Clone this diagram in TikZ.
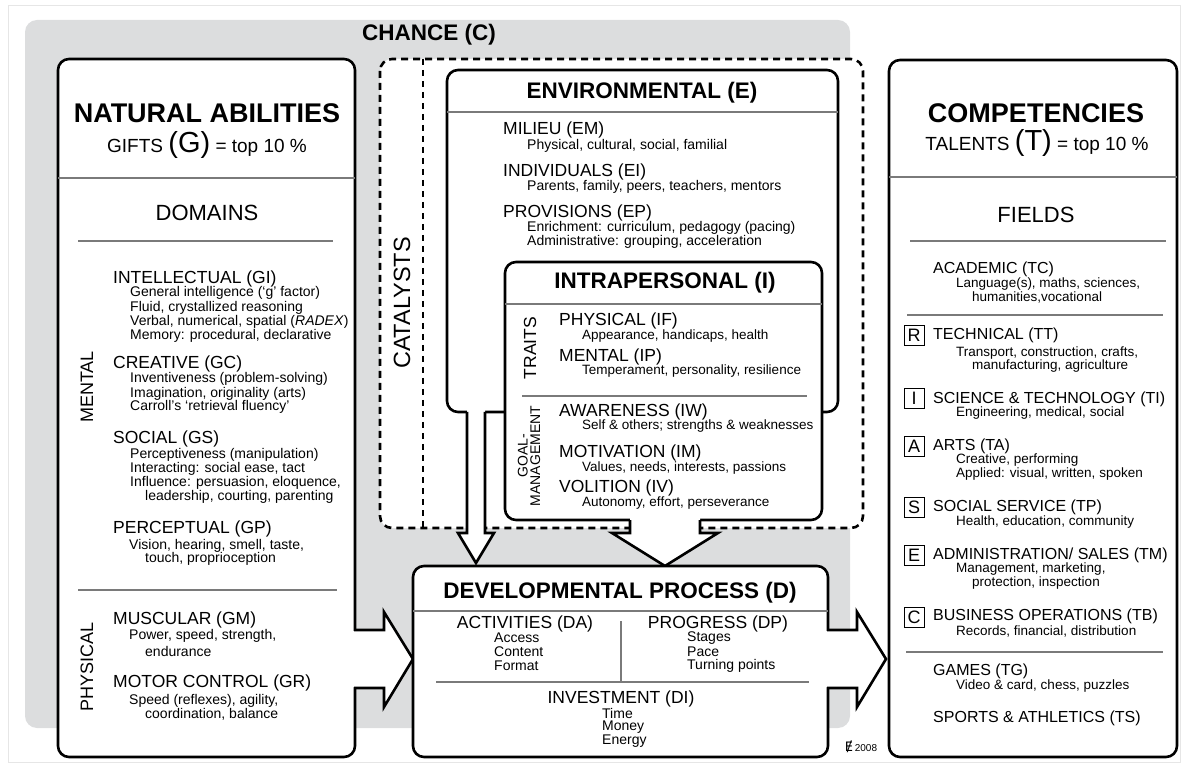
\documentclass[tikz,border=0pt]{standalone}
\usepackage{fontspec}
\setmainfont{Liberation Sans}
\newfontfamily\logofont{DejaVu Sans}
\usepackage{tikz}
\usetikzlibrary{positioning}
\definecolor{chancegray}{HTML}{DCDDDE}
\definecolor{rulegray}{HTML}{7A7A7A}
\definecolor{framegray}{HTML}{E6E6E6}

\begin{document}
\begin{tikzpicture}[x=1pt,y=-1pt,
  box/.style={line width=2.6pt,rounded corners=11pt},
  fatarrow/.style={line width=2.6pt,line join=miter},
  catline/.style={line width=2.6pt,dash pattern=on 7pt off 5pt},
  rule/.style={rulegray,line width=1.1pt},
  bigtitle/.style={font=\fontsize{27}{29}\selectfont\bfseries,inner sep=0pt},
  title/.style={font=\fontsize{22.5}{24}\selectfont\bfseries,inner sep=0pt},
  subtitle/.style={font=\fontsize{22}{24}\selectfont,inner sep=0pt},
  head/.style={font=\fontsize{17.5}{19}\selectfont,anchor=west,inner sep=0pt},
  item/.style={font=\fontsize{14}{15}\selectfont,anchor=west,inner sep=0pt},
  smallhead/.style={font=\fontsize{16}{18}\selectfont,anchor=west,inner sep=0pt},
  smallitem/.style={font=\fontsize{13.5}{15}\selectfont,anchor=west,inner sep=0pt},
  side/.style={font=\fontsize{18}{19}\selectfont,rotate=90,inner sep=0pt},
  riasec/.style={draw,line width=0.8pt,minimum size=20pt,inner sep=0pt,font=\fontsize{18}{18}\selectfont},
  centred/.style={anchor=center}]
  \useasboundingbox (0,0) rectangle (1187,767);
  \draw[framegray,line width=0.8pt] (8,5) rectangle (1180,762);

  % chance
  \fill[chancegray,rounded corners=12pt] (25,20) rectangle (850,728);
  \node[title] (chance) at (429,35) {CHANCE (C)};

  % natural abilities
  \draw[box,fill=white] (58,59) rectangle (355,757);
  \fill[white] (350,631) -- (384,631) -- (384,612) -- (413,659) -- (384,707) -- (384,687) -- (350,687) -- cycle;
  \draw[fatarrow] (354,630) -- (384,630) -- (384,612) -- (413,659) -- (384,707) -- (384,688) -- (354,688);
  \node[bigtitle] (na) at (207,113) {NATURAL ABILITIES};
  \node[inner sep=0pt,font=\fontsize{19}{20}\selectfont] (gifts) at (207,145)
    {GIFTS {\fontsize{29}{29}\selectfont(G)} = top 10 \%};
  \draw[rule] (58,178) -- (355,178);
  \node[subtitle] (domains) at (207,213) {DOMAINS};
  \draw[rule] (78,241) -- (333,241);
  \node[side] (mental) at (87,387) {MENTAL};
  \node[head] (gi) at (113,279) {INTELLECTUAL (GI)};
  \node[item] (gi1) at (130,293) {General intelligence (‘g’ factor)};
  \node[item] (gi2) at (130,308) {Fluid, crystallized reasoning};
  \node[item] (gi3) at (130,322) {Verbal, numerical, spatial (\textit{RADEX})};
  \node[item] (gi4) at (130,336) {Memory: procedural, declarative};
  \node[head] (gc) at (113,364) {CREATIVE (GC)};
  \node[item] (gc1) at (130,379) {Inventiveness (problem-solving)};
  \node[item] (gc2) at (130,394) {Imagination, originality (arts)};
  \node[item] (gc3) at (130,407) {Carroll’s ‘retrieval fluency’};
  \node[head] (gs) at (113,439) {SOCIAL (GS)};
  \node[item] (gs1) at (130,455) {Perceptiveness (manipulation)};
  \node[item] (gs2) at (130,469) {Interacting: social ease, tact};
  \node[item] (gs3) at (130,483) {Influence: persuasion, eloquence,};
  \node[item] (gs4) at (145,497) {leadership, courting, parenting};
  \node[head] (gp) at (113,529) {PERCEPTUAL (GP)};
  \node[item] (gp1) at (129,546) {Vision, hearing, smell, taste,};
  \node[item] (gp2) at (145,559) {touch, proprioception};
  \draw[rule] (78,590) -- (337,590);
  \node[side] (physical) at (87,667) {PHYSICAL};
  \node[head] (gm) at (113,620) {MUSCULAR (GM)};
  \node[item] (gm1) at (129,636) {Power, speed, strength,};
  \node[item] (gm2) at (145,651) {endurance};
  \node[head] (gr) at (113,683) {MOTOR CONTROL (GR)};
  \node[item] (gr1) at (129,701) {Speed (reflexes), agility,};
  \node[item] (gr2) at (145,714) {coordination, balance};

  % catalysts
  \draw[catline,rounded corners=12pt,fill=white] (380,59) rectangle (863,528);
  \draw[line width=1.8pt,dash pattern=on 6pt off 5pt] (423,59) -- (423,528);
  \node[side,font=\fontsize{23.5}{24}\selectfont] (catalysts) at (402,303) {CATALYSTS};

  % environmental
  \draw[box,fill=white] (447,70) rectangle (838,412);
  \node[title] (env) at (642,93) {ENVIRONMENTAL (E)};
  \draw[rule] (447,112) -- (838,112);
  \node[head] (em) at (503,130) {MILIEU (EM)};
  \node[item] (em1) at (527,146) {Physical, cultural, social, familial};
  \node[head] (ei) at (503,172) {INDIVIDUALS (EI)};
  \node[item] (ei1) at (527,187) {Parents, family, peers, teachers, mentors};
  \node[head] (ep) at (503,213) {PROVISIONS (EP)};
  \node[item] (ep1) at (527,228) {Enrichment: curriculum, pedagogy (pacing)};
  \node[item] (ep2) at (527,242) {Administrative: grouping, acceleration};

  % intrapersonal
  \draw[box,fill=white] (505,262) rectangle (822,520);
  \node[title] (intra) at (665,283) {INTRAPERSONAL (I)};
  \draw[rule] (505,304) -- (822,304);
  \node[side,font=\fontsize{17.5}{18}\selectfont] (traits) at (530,348) {TRAITS};
  \node[head] (if) at (559,321) {PHYSICAL (IF)};
  \node[smallitem] (if1) at (582,336) {Appearance, handicaps, health};
  \node[head] (ip) at (559,357) {MENTAL (IP)};
  \node[smallitem] (ip1) at (582,371) {Temperament, personality, resilience};
  \draw[rule] (522,396) -- (807,396);
  \node[side,font=\fontsize{14}{12.5}\selectfont,align=center] (goal) at (529,456) {GOAL-\\MANAGEMENT};
  \node[head] (iw) at (559,412) {AWARENESS (IW)};
  \node[smallitem] (iw1) at (582,426) {Self \& others; strengths \& weaknesses};
  \node[head] (im) at (559,453) {MOTIVATION (IM)};
  \node[smallitem] (im1) at (582,468) {Values, needs, interests, passions};
  \node[head] (iv) at (559,488) {VOLITION (IV)};
  \node[smallitem] (iv1) at (582,503) {Autonomy, effort, perseverance};

  % catalyst arrows into D
  \fill[white] (467,409) -- (467,533) -- (458,533) -- (476,563) -- (494,533) -- (485,533) -- (485,409) -- cycle;
  \draw[fatarrow] (467,412) -- (467,533) -- (458,533) -- (476,563) -- (494,533) -- (485,533) -- (485,412);
  \fill[white] (630,517) -- (630,533) -- (612,533) -- (665,566) -- (718,533) -- (700,533) -- (700,517) -- cycle;
  \draw[fatarrow] (630,520) -- (630,533) -- (612,533) -- (665,566) -- (718,533) -- (700,533) -- (700,520);

  % developmental process
  \draw[box,fill=white] (413,566) rectangle (828,757);
  \fill[white] (823,631) -- (857,631) -- (857,612) -- (886,659) -- (857,707) -- (857,687) -- (823,687) -- cycle;
  \draw[fatarrow] (827,630) -- (857,630) -- (857,612) -- (886,659) -- (857,707) -- (857,688) -- (827,688);
  \node[title] (dev) at (620,593) {DEVELOPMENTAL PROCESS (D)};
  \draw[rule] (413,611) -- (828,611);
  \node[head,centred] (da) at (525,624) {ACTIVITIES (DA)};
  \node[item] (da1) at (494,638) {Access};
  \node[item] (da2) at (494,652) {Content};
  \node[item] (da3) at (494,666) {Format};
  \draw[rule] (621,621) -- (621,682);
  \node[head,centred] (dp) at (718,624) {PROGRESS (DP)};
  \node[item] (dp1) at (687,638) {Stages};
  \node[item] (dp2) at (687,652) {Pace};
  \node[item] (dp3) at (687,666) {Turning points};
  \draw[rule] (436,682) -- (809,682);
  \node[head,centred] (di) at (621,699) {INVESTMENT (DI)};
  \node[item] (di1) at (602,713) {Time};
  \node[item] (di2) at (602,727) {Money};
  \node[item] (di3) at (602,741) {Energy};
  \node[inner sep=0pt] (logo) at (861,747)
    {{\logofont\fontsize{13}{13}\selectfont Ɇ}{\fontsize{10}{10}\selectfont\,2008}};

  % competencies
  \draw[box,fill=white] (889,60) rectangle (1177,757);
  \node[bigtitle] (comp) at (1036,113) {COMPETENCIES};
  \node[inner sep=0pt,font=\fontsize{19}{20}\selectfont] (talents) at (1037,143)
    {TALENTS {\fontsize{29}{29}\selectfont(T)} = top 10 \%};
  \draw[rule] (889,177) -- (1177,177);
  \node[subtitle] (fields) at (1036,215) {FIELDS};
  \draw[rule] (910,241) -- (1166,241);
  \node[smallhead] (tc) at (933,269) {ACADEMIC (TC)};
  \node[smallitem] (tc1) at (956,284) {Language(s), maths, sciences,};
  \node[smallitem] (tc2) at (972,297) {humanities,vocational};
  \draw[rule] (907,315) -- (1163,315);
  \node[riasec] (r) at (914,335) {R};
  \node[smallhead] (tt) at (933,335) {TECHNICAL (TT)};
  \node[smallitem] (tt1) at (956,353) {Transport, construction, crafts,};
  \node[smallitem] (tt2) at (972,366) {manufacturing, agriculture};
  \node[riasec] (i) at (914,398) {I};
  \node[smallhead] (ti) at (933,399) {SCIENCE \& TECHNOLOGY (TI)};
  \node[smallitem] (ti1) at (956,413) {Engineering, medical, social};
  \node[riasec] (a) at (914,446) {A};
  \node[smallhead] (ta) at (933,446) {ARTS (TA)};
  \node[smallitem] (ta1) at (956,460) {Creative, performing};
  \node[smallitem] (ta2) at (956,474) {Applied: visual, written, spoken};
  \node[riasec] (s) at (914,507) {S};
  \node[smallhead] (tp) at (933,507) {SOCIAL SERVICE (TP)};
  \node[smallitem] (tp1) at (956,522) {Health, education, community};
  \node[riasec] (e) at (914,555) {E};
  \node[smallhead] (tm) at (933,555) {ADMINISTRATION/ SALES (TM)};
  \node[smallitem] (tm1) at (956,569) {Management, marketing,};
  \node[smallitem] (tm2) at (972,583) {protection, inspection};
  \node[riasec] (c) at (914,617) {C};
  \node[smallhead] (tb) at (933,616) {BUSINESS OPERATIONS (TB)};
  \node[smallitem] (tb1) at (956,631) {Records, financial, distribution};
  \draw[rule] (906,652) -- (1163,652);
  \node[smallhead] (tg) at (933,671) {GAMES (TG)};
  \node[smallitem] (tg1) at (956,686) {Video \& card, chess, puzzles};
  \node[smallhead] (ts) at (933,718) {SPORTS \& ATHLETICS (TS)};
\end{tikzpicture}
\end{document}
